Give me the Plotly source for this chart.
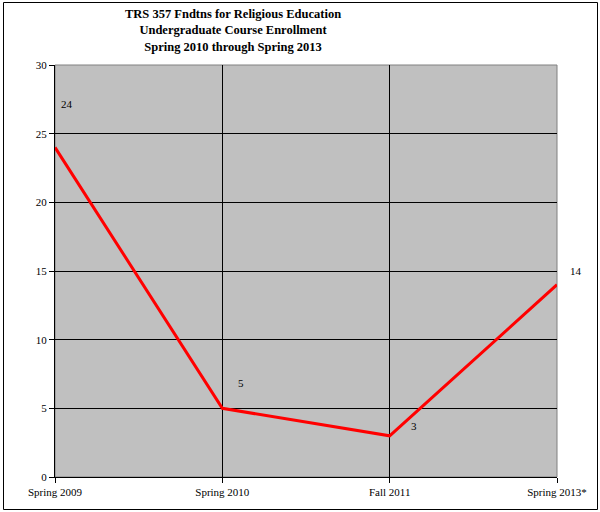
import plotly.graph_objects as go

categories = ["Spring 2009", "Spring 2010", "Fall 2011", "Spring 2013*"]
enrollment = [24, 5, 3, 14]
y_ticks = [0, 5, 10, 15, 20, 25, 30]
label_shift = [(12, 43), (19, 25), (24, 10), (19, 14)]

xpos = list(range(len(categories)))
FONT = "Liberation Serif, Times New Roman, serif"

fig = go.Figure()
fig.add_trace(go.Scatter(x=xpos, y=enrollment, mode="lines",
                         line=dict(color="#FF0000", width=3), hoverinfo="skip"))

for xi, v, (dx, dy) in zip(xpos, enrollment, label_shift):
    fig.add_annotation(x=xi, y=v, text=str(v), showarrow=False,
                       xshift=dx, yshift=dy,
                       font=dict(family=FONT, size=11, color="black"))

fig.add_annotation(xref="paper", yref="paper", x=0.3546, y=1.0, yshift=9,
                   yanchor="bottom", xanchor="center", showarrow=False,
                   text="<b>TRS 357 Fndtns for Religious Education<br>Undergraduate Course Enrollment<br>Spring 2010 through Spring 2013</b>",
                   font=dict(family=FONT, size=12.5, color="black"))

# plot area border (gray)
fig.add_shape(type="rect", xref="paper", yref="paper", x0=0, x1=1, y0=0, y1=1,
              line=dict(color="#808080", width=1), layer="below")
# outer chart border
fig.add_shape(type="rect", xref="paper", yref="paper",
              x0=(3.5 - 55) / 502, x1=(597.5 - 55) / 502,
              y0=(477 - 509.5) / 412, y1=(477 - 2.5) / 412,
              line=dict(color="#000000", width=1))

fig.update_layout(
    width=600, height=512,
    margin=dict(l=55, r=43, t=65, b=35),
    paper_bgcolor="white", plot_bgcolor="#C0C0C0",
    showlegend=False,
    font=dict(family=FONT, size=11, color="black"),
)
fig.update_xaxes(range=[0, 3], tickvals=xpos, ticktext=categories,
                 showgrid=True, gridcolor="black", gridwidth=1,
                 showline=True, linecolor="black", linewidth=1,
                 ticks="outside", ticklen=5, tickcolor="black",
                 zeroline=False, fixedrange=True)
fig.update_yaxes(range=[0, 30], tickvals=y_ticks,
                 showgrid=True, gridcolor="black", gridwidth=1,
                 showline=True, linecolor="black", linewidth=1,
                 ticks="outside", ticklen=5, tickcolor="black",
                 zeroline=False, fixedrange=True)

fig.write_html("out.html", config={"displayModeBar": False},
               post_script="document.body.style.margin='0';document.body.style.overflow='hidden';")
